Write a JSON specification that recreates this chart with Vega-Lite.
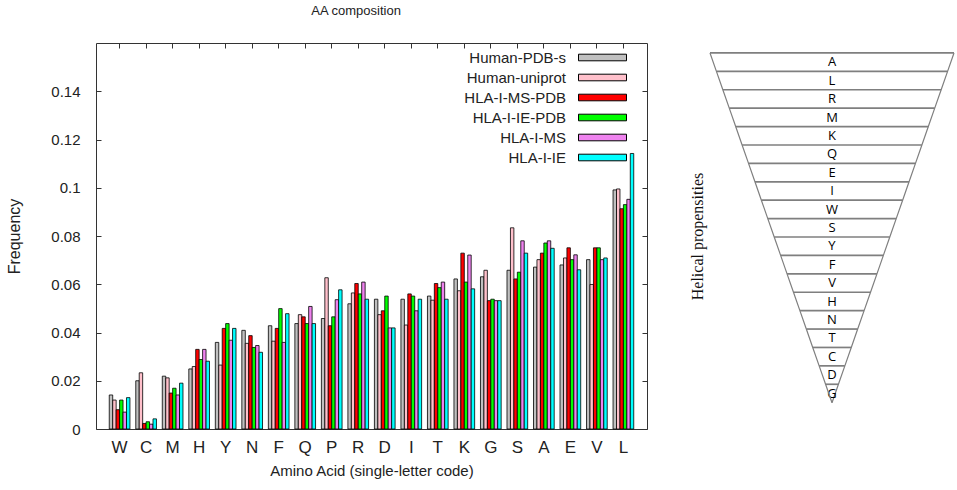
{
  "$schema": "https://vega.github.io/schema/vega-lite/v6.json",
  "background": "white",
  "padding": {"left": 6, "top": 4, "right": 0, "bottom": 0},
  "title": {
    "text": "AA composition",
    "anchor": "start",
    "dx": 305,
    "offset": 20,
    "font": "Liberation Sans",
    "fontSize": 13,
    "fontWeight": "normal",
    "color": "#222"
  },
  "datasets": {
    "freq": [
      {"aa": "W", "s": "Human-PDB-s", "f": 0.0141}, {"aa": "W", "s": "Human-uniprot", "f": 0.012}, {"aa": "W", "s": "HLA-I-MS-PDB", "f": 0.008}, {"aa": "W", "s": "HLA-I-IE-PDB", "f": 0.012}, {"aa": "W", "s": "HLA-I-MS", "f": 0.007}, {"aa": "W", "s": "HLA-I-IE", "f": 0.013},
      {"aa": "C", "s": "Human-PDB-s", "f": 0.020}, {"aa": "C", "s": "Human-uniprot", "f": 0.0233}, {"aa": "C", "s": "HLA-I-MS-PDB", "f": 0.0023}, {"aa": "C", "s": "HLA-I-IE-PDB", "f": 0.003}, {"aa": "C", "s": "HLA-I-MS", "f": 0.002}, {"aa": "C", "s": "HLA-I-IE", "f": 0.0042},
      {"aa": "M", "s": "Human-PDB-s", "f": 0.0219}, {"aa": "M", "s": "Human-uniprot", "f": 0.0212}, {"aa": "M", "s": "HLA-I-MS-PDB", "f": 0.0149}, {"aa": "M", "s": "HLA-I-IE-PDB", "f": 0.0169}, {"aa": "M", "s": "HLA-I-MS", "f": 0.0141}, {"aa": "M", "s": "HLA-I-IE", "f": 0.019},
      {"aa": "H", "s": "Human-PDB-s", "f": 0.0249}, {"aa": "H", "s": "Human-uniprot", "f": 0.0259}, {"aa": "H", "s": "HLA-I-MS-PDB", "f": 0.033}, {"aa": "H", "s": "HLA-I-IE-PDB", "f": 0.0288}, {"aa": "H", "s": "HLA-I-MS", "f": 0.033}, {"aa": "H", "s": "HLA-I-IE", "f": 0.0281},
      {"aa": "Y", "s": "Human-PDB-s", "f": 0.0359}, {"aa": "Y", "s": "Human-uniprot", "f": 0.0265}, {"aa": "Y", "s": "HLA-I-MS-PDB", "f": 0.0417}, {"aa": "Y", "s": "HLA-I-IE-PDB", "f": 0.0437}, {"aa": "Y", "s": "HLA-I-MS", "f": 0.0368}, {"aa": "Y", "s": "HLA-I-IE", "f": 0.0417},
      {"aa": "N", "s": "Human-PDB-s", "f": 0.0409}, {"aa": "N", "s": "Human-uniprot", "f": 0.0355}, {"aa": "N", "s": "HLA-I-MS-PDB", "f": 0.0387}, {"aa": "N", "s": "HLA-I-IE-PDB", "f": 0.0338}, {"aa": "N", "s": "HLA-I-MS", "f": 0.0346}, {"aa": "N", "s": "HLA-I-IE", "f": 0.0318},
      {"aa": "F", "s": "Human-PDB-s", "f": 0.0428}, {"aa": "F", "s": "Human-uniprot", "f": 0.0364}, {"aa": "F", "s": "HLA-I-MS-PDB", "f": 0.0417}, {"aa": "F", "s": "HLA-I-IE-PDB", "f": 0.0499}, {"aa": "F", "s": "HLA-I-MS", "f": 0.0359}, {"aa": "F", "s": "HLA-I-IE", "f": 0.0478},
      {"aa": "Q", "s": "Human-PDB-s", "f": 0.0437}, {"aa": "Q", "s": "Human-uniprot", "f": 0.0474}, {"aa": "Q", "s": "HLA-I-MS-PDB", "f": 0.0465}, {"aa": "Q", "s": "HLA-I-IE-PDB", "f": 0.0437}, {"aa": "Q", "s": "HLA-I-MS", "f": 0.0508}, {"aa": "Q", "s": "HLA-I-IE", "f": 0.0437},
      {"aa": "P", "s": "Human-PDB-s", "f": 0.0458}, {"aa": "P", "s": "Human-uniprot", "f": 0.0627}, {"aa": "P", "s": "HLA-I-MS-PDB", "f": 0.0428}, {"aa": "P", "s": "HLA-I-IE-PDB", "f": 0.0465}, {"aa": "P", "s": "HLA-I-MS", "f": 0.0536}, {"aa": "P", "s": "HLA-I-IE", "f": 0.0577},
      {"aa": "R", "s": "Human-PDB-s", "f": 0.0519}, {"aa": "R", "s": "Human-uniprot", "f": 0.0564}, {"aa": "R", "s": "HLA-I-MS-PDB", "f": 0.0603}, {"aa": "R", "s": "HLA-I-IE-PDB", "f": 0.056}, {"aa": "R", "s": "HLA-I-MS", "f": 0.0609}, {"aa": "R", "s": "HLA-I-IE", "f": 0.0538},
      {"aa": "D", "s": "Human-PDB-s", "f": 0.0538}, {"aa": "D", "s": "Human-uniprot", "f": 0.0474}, {"aa": "D", "s": "HLA-I-MS-PDB", "f": 0.049}, {"aa": "D", "s": "HLA-I-IE-PDB", "f": 0.0551}, {"aa": "D", "s": "HLA-I-MS", "f": 0.0419}, {"aa": "D", "s": "HLA-I-IE", "f": 0.0419},
      {"aa": "I", "s": "Human-PDB-s", "f": 0.0538}, {"aa": "I", "s": "Human-uniprot", "f": 0.0431}, {"aa": "I", "s": "HLA-I-MS-PDB", "f": 0.056}, {"aa": "I", "s": "HLA-I-IE-PDB", "f": 0.0551}, {"aa": "I", "s": "HLA-I-MS", "f": 0.049}, {"aa": "I", "s": "HLA-I-IE", "f": 0.0538},
      {"aa": "T", "s": "Human-PDB-s", "f": 0.0551}, {"aa": "T", "s": "Human-uniprot", "f": 0.0534}, {"aa": "T", "s": "HLA-I-MS-PDB", "f": 0.0603}, {"aa": "T", "s": "HLA-I-IE-PDB", "f": 0.0586}, {"aa": "T", "s": "HLA-I-MS", "f": 0.0609}, {"aa": "T", "s": "HLA-I-IE", "f": 0.0538},
      {"aa": "K", "s": "Human-PDB-s", "f": 0.0622}, {"aa": "K", "s": "Human-uniprot", "f": 0.0573}, {"aa": "K", "s": "HLA-I-MS-PDB", "f": 0.0729}, {"aa": "K", "s": "HLA-I-IE-PDB", "f": 0.0609}, {"aa": "K", "s": "HLA-I-MS", "f": 0.0721}, {"aa": "K", "s": "HLA-I-IE", "f": 0.0581},
      {"aa": "G", "s": "Human-PDB-s", "f": 0.0631}, {"aa": "G", "s": "Human-uniprot", "f": 0.0658}, {"aa": "G", "s": "HLA-I-MS-PDB", "f": 0.0532}, {"aa": "G", "s": "HLA-I-IE-PDB", "f": 0.0538}, {"aa": "G", "s": "HLA-I-MS", "f": 0.0532}, {"aa": "G", "s": "HLA-I-IE", "f": 0.0532},
      {"aa": "S", "s": "Human-PDB-s", "f": 0.0658}, {"aa": "S", "s": "Human-uniprot", "f": 0.0834}, {"aa": "S", "s": "HLA-I-MS-PDB", "f": 0.0622}, {"aa": "S", "s": "HLA-I-IE-PDB", "f": 0.065}, {"aa": "S", "s": "HLA-I-MS", "f": 0.078}, {"aa": "S", "s": "HLA-I-IE", "f": 0.0729},
      {"aa": "A", "s": "Human-PDB-s", "f": 0.0671}, {"aa": "A", "s": "Human-uniprot", "f": 0.0702}, {"aa": "A", "s": "HLA-I-MS-PDB", "f": 0.0729}, {"aa": "A", "s": "HLA-I-IE-PDB", "f": 0.0771}, {"aa": "A", "s": "HLA-I-MS", "f": 0.078}, {"aa": "A", "s": "HLA-I-IE", "f": 0.0749},
      {"aa": "E", "s": "Human-PDB-s", "f": 0.068}, {"aa": "E", "s": "Human-uniprot", "f": 0.0709}, {"aa": "E", "s": "HLA-I-MS-PDB", "f": 0.0751}, {"aa": "E", "s": "HLA-I-IE-PDB", "f": 0.0702}, {"aa": "E", "s": "HLA-I-MS", "f": 0.0722}, {"aa": "E", "s": "HLA-I-IE", "f": 0.066},
      {"aa": "V", "s": "Human-PDB-s", "f": 0.0702}, {"aa": "V", "s": "Human-uniprot", "f": 0.0599}, {"aa": "V", "s": "HLA-I-MS-PDB", "f": 0.0751}, {"aa": "V", "s": "HLA-I-IE-PDB", "f": 0.0751}, {"aa": "V", "s": "HLA-I-MS", "f": 0.0702}, {"aa": "V", "s": "HLA-I-IE", "f": 0.0709},
      {"aa": "L", "s": "Human-PDB-s", "f": 0.0991}, {"aa": "L", "s": "Human-uniprot", "f": 0.0995}, {"aa": "L", "s": "HLA-I-MS-PDB", "f": 0.0913}, {"aa": "L", "s": "HLA-I-IE-PDB", "f": 0.093}, {"aa": "L", "s": "HLA-I-MS", "f": 0.0952}, {"aa": "L", "s": "HLA-I-IE", "f": 0.1142}
    ],
    "helix": [
      {"aa": "", "rank": 0, "below": 19},
      {"aa": "A", "rank": 1, "below": 18},
      {"aa": "L", "rank": 2, "below": 17},
      {"aa": "R", "rank": 3, "below": 16},
      {"aa": "M", "rank": 4, "below": 15},
      {"aa": "K", "rank": 5, "below": 14},
      {"aa": "Q", "rank": 6, "below": 13},
      {"aa": "E", "rank": 7, "below": 12},
      {"aa": "I", "rank": 8, "below": 11},
      {"aa": "W", "rank": 9, "below": 10},
      {"aa": "S", "rank": 10, "below": 9},
      {"aa": "Y", "rank": 11, "below": 8},
      {"aa": "F", "rank": 12, "below": 7},
      {"aa": "V", "rank": 13, "below": 6},
      {"aa": "H", "rank": 14, "below": 5},
      {"aa": "N", "rank": 15, "below": 4},
      {"aa": "T", "rank": 16, "below": 3},
      {"aa": "C", "rank": 17, "below": 2},
      {"aa": "D", "rank": 18, "below": 1},
      {"aa": "G", "rank": 19, "below": 0}
    ]
  },
  "hconcat": [
    {
      "width": 551,
      "height": 386,
      "data": {"name": "freq"},
      "layer": [
        {
          "mark": {"type": "bar", "stroke": "#000", "strokeWidth": 0.8},
          "encoding": {
            "x": {
              "field": "aa",
              "type": "nominal",
              "sort": ["W", "C", "M", "H", "Y", "N", "F", "Q", "P", "R", "D", "I", "T", "K", "G", "S", "A", "E", "V", "L"],
              "scale": {"paddingInner": 0.22, "paddingOuter": 0.5},
              "axis": {
                "title": "Amino Acid (single-letter code)",
                "labelAngle": 0,
                "ticks": false,
                "domain": false,
                "labelPadding": 10,
                "labelFontSize": 17,
                "titleFontSize": 15,
                "titleFontWeight": "normal",
                "titlePadding": 8
              }
            },
            "xOffset": {
              "field": "s",
              "sort": ["Human-PDB-s", "Human-uniprot", "HLA-I-MS-PDB", "HLA-I-IE-PDB", "HLA-I-MS", "HLA-I-IE"]
            },
            "y": {
              "field": "f",
              "type": "quantitative",
              "scale": {"domain": [0, 0.15]},
              "axis": {
                "title": "Frequency",
                "values": [0, 0.02, 0.04, 0.06, 0.08, 0.1, 0.12, 0.14],
                "labelExpr": "'' + datum.value",
                "grid": false,
                "domain": false,
                "tickSize": -5,
                "labelPadding": 21,
                "labelFontSize": 15,
                "titleFontSize": 16,
                "titleFontWeight": "normal",
                "titlePadding": 28
              }
            },
            "color": {
              "field": "s",
              "type": "nominal",
              "scale": {
                "domain": ["Human-PDB-s", "Human-uniprot", "HLA-I-MS-PDB", "HLA-I-IE-PDB", "HLA-I-MS", "HLA-I-IE"],
                "range": ["#c0c0c0", "#ffc0cb", "#ff0000", "#00ff00", "#ee82ee", "#00ffff"]
              },
              "legend": {
                "orient": "none",
                "legendX": 481,
                "legendY": 7,
                "title": null,
                "symbolType": "M-1,-0.55H7V0.55H-1Z",
                "symbolSize": 144,
                "symbolStrokeColor": "#000",
                "symbolStrokeWidth": 1,
                "labelAlign": "right",
                "labelOffset": -26,
                "labelFontSize": 15,
                "labelFont": "Liberation Sans",
                "labelColor": "#222",
                "labelLimit": 300,
                "rowPadding": 4
              }
            }
          }
        },
        {
          "mark": {"type": "point", "opacity": 0},
          "encoding": {
            "x": {
              "field": "aa",
              "type": "nominal",
              "sort": ["W", "C", "M", "H", "Y", "N", "F", "Q", "P", "R", "D", "I", "T", "K", "G", "S", "A", "E", "V", "L"],
              "axis": {"orient": "top", "labels": false, "title": null, "domain": false, "tickSize": -5}
            },
            "y": {
              "field": "f",
              "type": "quantitative",
              "axis": {
                "orient": "right",
                "values": [0, 0.02, 0.04, 0.06, 0.08, 0.1, 0.12, 0.14],
                "labels": false,
                "title": null,
                "grid": false,
                "domain": false,
                "tickSize": -5
              }
            }
          }
        }
      ],
      "resolve": {"axis": {"x": "independent", "y": "independent"}}
    },
    {
      "width": 244,
      "height": 386,
      "view": {"stroke": null},
      "data": {"name": "helix"},
      "layer": [
        {
          "layer": [
            {
              "mark": {"type": "rule", "color": "#7f7f7f", "strokeWidth": 1.7},
              "encoding": {
                "x": {"field": "below", "type": "quantitative", "scale": {"domain": [-19, 19]}, "axis": null},
                "x2": {"datum": 0},
                "y": {
                  "field": "rank",
                  "type": "quantitative",
                  "scale": {"domain": [-0.54, 20.43], "reverse": true, "nice": false, "zero": false},
                  "axis": {"title": "Helical propensities", "labels": false, "ticks": false, "domain": false, "grid": false, "titleFont": "Liberation Serif", "titleFontSize": 16, "titleFontWeight": "normal", "titleColor": "#111", "titlePadding": 5}
                }
              }
            },
            {
              "mark": {"type": "line", "color": "#7f7f7f", "strokeWidth": 1.2},
              "encoding": {
                "x": {"field": "below", "type": "quantitative", "scale": {"domain": [-19, 19]}, "axis": null},
                "y": {
                  "field": "rank",
                  "type": "quantitative",
                  "scale": {"domain": [-0.54, 20.43], "reverse": true, "nice": false, "zero": false},
                  "axis": {"title": "Helical propensities", "labels": false, "ticks": false, "domain": false, "grid": false, "titleFont": "Liberation Serif", "titleFontSize": 16, "titleFontWeight": "normal", "titleColor": "#111", "titlePadding": 5}
                },
                "order": {"field": "rank"}
              }
            },
            {
              "mark": {"type": "text", "dy": -9, "font": "Open Sans", "fontSize": 13, "color": "#000"},
              "encoding": {
                "x": {"datum": 0, "type": "quantitative", "scale": {"domain": [-19, 19]}, "axis": null},
                "y": {
                  "field": "rank",
                  "type": "quantitative",
                  "scale": {"domain": [-0.54, 20.43], "reverse": true, "nice": false, "zero": false},
                  "axis": {"title": "Helical propensities", "labels": false, "ticks": false, "domain": false, "grid": false, "titleFont": "Liberation Serif", "titleFontSize": 16, "titleFontWeight": "normal", "titleColor": "#111", "titlePadding": 5}
                },
                "text": {"field": "aa"}
              }
            }
          ]
        },
        {
          "layer": [
            {
              "mark": {"type": "rule", "color": "#7f7f7f", "strokeWidth": 1.7},
              "encoding": {
                "x": {"field": "below", "type": "quantitative", "scale": {"domain": [-19, 19], "reverse": true}, "axis": null},
                "x2": {"datum": 0},
                "y": {
                  "field": "rank",
                  "type": "quantitative",
                  "scale": {"domain": [-0.54, 20.43], "reverse": true, "nice": false, "zero": false},
                  "axis": {"title": "Helical propensities", "labels": false, "ticks": false, "domain": false, "grid": false, "titleFont": "Liberation Serif", "titleFontSize": 16, "titleFontWeight": "normal", "titleColor": "#111", "titlePadding": 5}
                }
              }
            },
            {
              "mark": {"type": "line", "color": "#7f7f7f", "strokeWidth": 1.2},
              "encoding": {
                "x": {"field": "below", "type": "quantitative", "scale": {"domain": [-19, 19], "reverse": true}, "axis": null},
                "y": {
                  "field": "rank",
                  "type": "quantitative",
                  "scale": {"domain": [-0.54, 20.43], "reverse": true, "nice": false, "zero": false},
                  "axis": {"title": "Helical propensities", "labels": false, "ticks": false, "domain": false, "grid": false, "titleFont": "Liberation Serif", "titleFontSize": 16, "titleFontWeight": "normal", "titleColor": "#111", "titlePadding": 5}
                },
                "order": {"field": "rank"}
              }
            }
          ]
        }
      ],
      "resolve": {"scale": {"x": "independent"}}
    }
  ],
  "spacing": 41,
  "config": {
    "font": "Liberation Sans",
    "axis": {"labelColor": "#222", "titleColor": "#222", "tickColor": "#333", "labelFont": "Liberation Sans", "titleFont": "Liberation Sans"},
    "view": {"stroke": "#333", "strokeWidth": 1}
  }
}
